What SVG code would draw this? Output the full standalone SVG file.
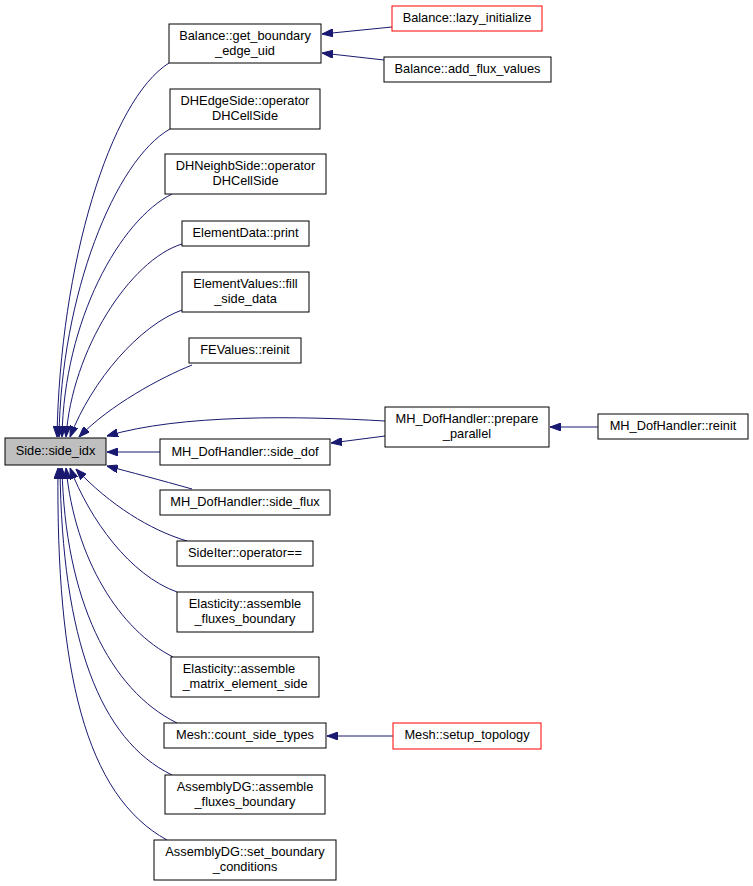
<svg xmlns="http://www.w3.org/2000/svg" width="753" height="886" viewBox="0 0 753 886">
<style>
.n rect{fill:#fff;stroke:#000;stroke-width:1}
.n text{font-family:"Liberation Sans",Arial,sans-serif;font-size:12.8px;text-anchor:middle;fill:#000}
.r rect{stroke:#ff0000}
.g rect{fill:#bfbfbf}
#edges path{fill:none;stroke:#191970;stroke-width:1;marker-end:url(#ah)}
</style>
<defs>
<marker id="ah" markerWidth="11" markerHeight="8" refX="11" refY="4" orient="auto" markerUnits="userSpaceOnUse">
<path d="M0,0 L11,4 L0,8 z" fill="#191970" stroke="#191970" stroke-width="1"/>
</marker>
</defs>
<rect width="753" height="886" fill="#fff"/>
<g id="edges">
<path d="M169,63 C110,100 60,265 57,437"/>
<path d="M170,129 C115,160 61,295 59,437"/>
<path d="M172,194 C120,220 64,320 62,437"/>
<path d="M182,244 C130,260 72,350 66,437"/>
<path d="M182,310 C140,325 92,380 70,437"/>
<path d="M192,365 C160,378 110,405 79,437"/>
<path d="M385,421 C300,416 180,414 107,436"/>
<path d="M160,452 L107,452"/>
<path d="M192,489 C160,480 130,472 107,466"/>
<path d="M187,541 C150,530 110,505 76,469"/>
<path d="M177,592 C130,575 90,520 70,468"/>
<path d="M173,657 C120,630 75,560 66,468"/>
<path d="M177,723 C110,690 65,600 62,468"/>
<path d="M172,775 C100,740 62,640 60,468"/>
<path d="M167,840 C85,795 56,670 58,468"/>
<path d="M385,436 L331,443"/>
<path d="M598,427 L550,427"/>
<path d="M392,27 L322,34"/>
<path d="M384,60 L322,53"/>
<path d="M393,736 L327,736"/>
</g>
<g id="side_idx" class="n g"><rect x="5" y="438" width="101" height="27"/><text x="55.5" y="455">Side::side_idx</text></g>
<g id="get_boundary_edge_uid" class="n"><rect x="169" y="24" width="152" height="39"/><text x="245" y="40">Balance::get_boundary</text><text x="245" y="55">_edge_uid</text></g>
<g id="dhedgeside" class="n"><rect x="170" y="89" width="150" height="40"/><text x="245" y="105">DHEdgeSide::operator</text><text x="245" y="120">DHCellSide</text></g>
<g id="dhneighbside" class="n"><rect x="165" y="154" width="161" height="40"/><text x="245.5" y="170">DHNeighbSide::operator</text><text x="245.5" y="185">DHCellSide</text></g>
<g id="elementdata_print" class="n"><rect x="182" y="221" width="127" height="25"/><text x="245.5" y="237">ElementData::print</text></g>
<g id="elementvalues_fill" class="n"><rect x="182" y="272" width="127" height="40"/><text x="245.5" y="288">ElementValues::fill</text><text x="245.5" y="303">_side_data</text></g>
<g id="fevalues_reinit" class="n"><rect x="189" y="338" width="112" height="25"/><text x="245" y="354">FEValues::reinit</text></g>
<g id="side_dof" class="n"><rect x="160" y="439" width="170" height="26"/><text x="245" y="456">MH_DofHandler::side_dof</text></g>
<g id="side_flux" class="n"><rect x="160" y="490" width="170" height="25"/><text x="245" y="506">MH_DofHandler::side_flux</text></g>
<g id="sideiter_eq" class="n"><rect x="177" y="541" width="136" height="25"/><text x="245" y="557">SideIter::operator==</text></g>
<g id="elasticity_fluxes" class="n"><rect x="177" y="592" width="136" height="40"/><text x="245" y="608">Elasticity::assemble</text><text x="245" y="623">_fluxes_boundary</text></g>
<g id="elasticity_matrix" class="n"><rect x="171" y="657" width="148" height="40"/><text x="239" y="673">Elasticity::assemble</text><text x="245" y="688">_matrix_element_side</text></g>
<g id="count_side_types" class="n"><rect x="164" y="723" width="162" height="25"/><text x="245" y="739">Mesh::count_side_types</text></g>
<g id="assemblydg_fluxes" class="n"><rect x="165" y="775" width="160" height="39"/><text x="245" y="791">AssemblyDG::assemble</text><text x="245" y="806">_fluxes_boundary</text></g>
<g id="assemblydg_set" class="n"><rect x="154" y="840" width="182" height="40"/><text x="245" y="856">AssemblyDG::set_boundary</text><text x="245" y="871">_conditions</text></g>
<g id="lazy_initialize" class="n r"><rect x="392" y="6" width="150" height="25"/><text x="467" y="22">Balance::lazy_initialize</text></g>
<g id="add_flux_values" class="n"><rect x="384" y="57" width="167" height="25"/><text x="467.5" y="73">Balance::add_flux_values</text></g>
<g id="prepare_parallel" class="n"><rect x="385" y="407" width="164" height="40"/><text x="467" y="423">MH_DofHandler::prepare</text><text x="467" y="438">_parallel</text></g>
<g id="dofhandler_reinit" class="n"><rect x="598" y="414" width="150" height="25"/><text x="673" y="430">MH_DofHandler::reinit</text></g>
<g id="setup_topology" class="n r"><rect x="393" y="723" width="148" height="26"/><text x="467" y="739">Mesh::setup_topology</text></g>
</svg>
